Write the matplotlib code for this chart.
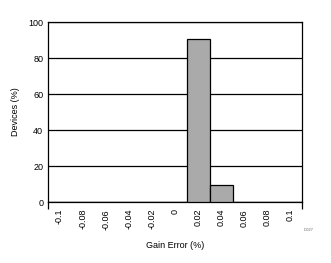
import matplotlib
matplotlib.use('Agg')
import matplotlib.pyplot as plt
import numpy as np

plt.rcParams['font.family'] = ['Liberation Sans', 'DejaVu Sans']

# gain error bins (%), share of devices (%)
bins = ['-0.1', '-0.08', '-0.06', '-0.04', '-0.02', '0', '0.02', '0.04', '0.06', '0.08', '0.1']
devices = [0, 0, 0, 0, 0, 0, 90.5, 9.5, 0, 0, 0]
yticks = [0, 20, 40, 60, 80, 100]

fig = plt.figure(figsize=(3.31, 2.63), dpi=100)
ax = fig.add_axes([48/331, 61/263, 254/331, 180/263])

x = np.arange(len(bins))
ax.bar(x, devices, width=1.0, color='#aaaaaa', edgecolor='black', linewidth=0.9, zorder=3)

ax.set_xlim(-0.5, len(bins) - 0.5)
ax.set_ylim(0, 100)
ax.set_yticks(yticks)
ax.set_yticklabels([str(t) for t in yticks], fontsize=6.5)
ax.set_xticks(x)
ax.set_xticklabels(bins, rotation=90, fontsize=6.5)
ax.tick_params(axis='x', length=0, pad=5)
ax.tick_params(axis='y', length=0, pad=3.5)
ax.set_xticks([-0.5, len(bins) - 0.5], minor=True)
ax.tick_params(axis='x', which='minor', length=5, width=0.9)
ax.yaxis.grid(True, color='black', linewidth=0.9, zorder=0)
for s in ax.spines.values():
    s.set_linewidth(0.9)

ax.set_xlabel('Gain Error (%)', fontsize=6.5, labelpad=8)
ax.set_ylabel('Devices (%)', fontsize=6.5, labelpad=6)
fig.text(309/331, 1 - 230/263, 'D027', fontsize=3, color='#666666', ha='center', va='center')

fig.savefig('out.png', dpi=100)
